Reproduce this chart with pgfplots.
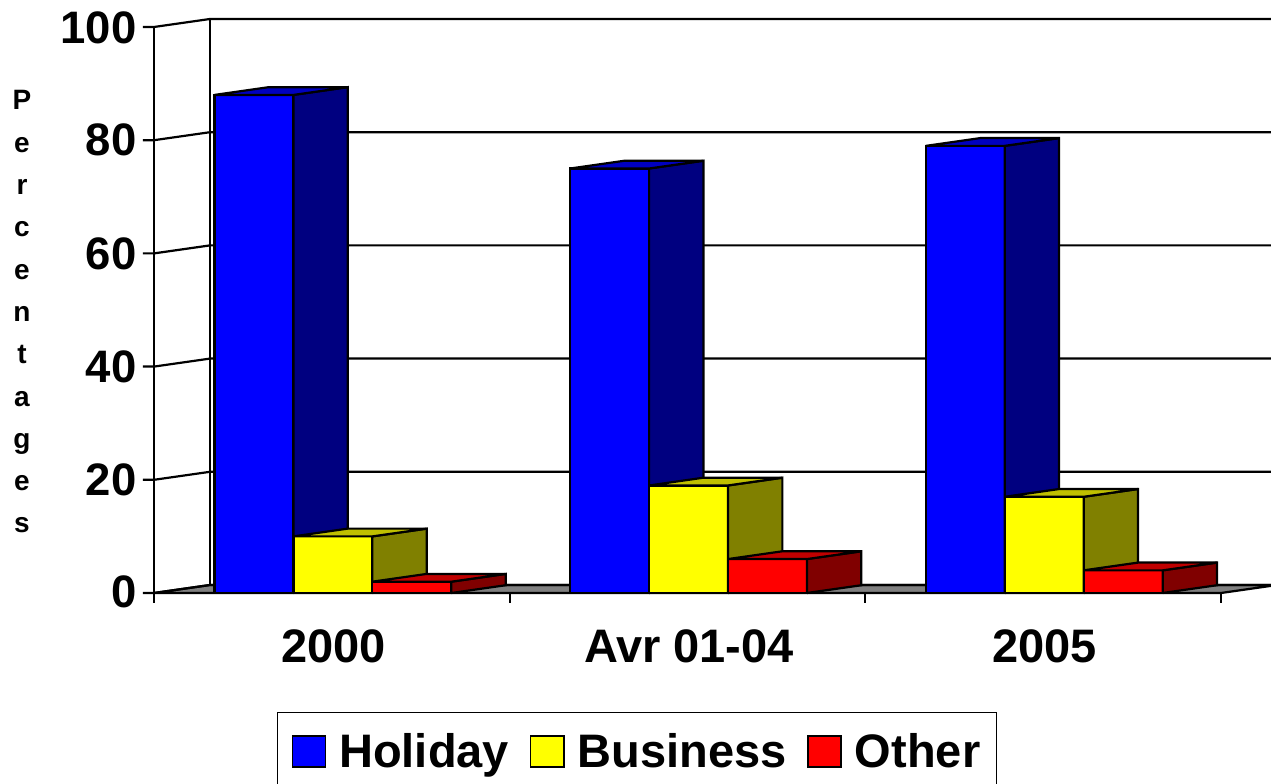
\documentclass[border=0pt]{standalone}
\usepackage{pgfplots}
\pgfplotsset{compat=1.18}
\usepackage{fontspec}
\setmainfont{Liberation Sans}
\definecolor{hF}{HTML}{0000FF}\definecolor{hS}{HTML}{000080}\definecolor{hT}{HTML}{0000C0}
\definecolor{bF}{HTML}{FFFF00}\definecolor{bS}{HTML}{808000}\definecolor{bT}{HTML}{C0C000}
\definecolor{oF}{HTML}{FF0000}\definecolor{oS}{HTML}{800000}\definecolor{oT}{HTML}{C00000}
\definecolor{floorc}{HTML}{808080}
% #1 left, #2 right, #3 value, #4 colour prefix
\newcommand{\tdbar}[4]{%
 \addplot3[forget plot,fill=#4F,draw=black] coordinates {(#1,0,0)(#2,0,0)(#2,0,#3)(#1,0,#3)(#1,0,0)};
 \addplot3[forget plot,fill=#4S,draw=black] coordinates {(#2,0,0)(#2,0.97,0)(#2,0.97,#3)(#2,0,#3)(#2,0,0)};
 \addplot3[forget plot,fill=#4T,draw=black] coordinates {(#1,0,#3)(#2,0,#3)(#2,0.97,#3)(#1,0.97,#3)(#1,0,#3)};
}
\begin{document}
\begin{tikzpicture}[x=1pt,y=1pt]
\path[use as bounding box,clip] (0,0) rectangle (1271,784);
\begin{axis}[
  at={(154pt,191pt)},anchor=origin,
  x={(355.67pt,0pt)},y={(56pt,8pt)},z={(0pt,5.66pt)},
  xmin=0,xmax=3,ymin=0,ymax=1,zmin=0,zmax=100,
  clip=false,
  axis line style={draw=none},
  major tick length=0pt,
  xtick={0.5,1.5,2.5},xticklabels={2000,Avr 01-04,2005},
  ytick=\empty,
  ztick={0,20,40,60,80,100},
  /pgf/number format/assume math mode=true,
  xticklabel style={font=\fontsize{47}{50}\selectfont\bfseries,xshift=19pt,yshift=-33pt},
  zticklabel style={font=\fontsize{45.5}{50}\selectfont\bfseries,xshift=-14pt,yshift=2pt},
  every axis plot/.append style={line width=2.2pt,line join=miter,no marks},
  legend columns=3,
  legend cell align=left,
  legend style={at={(axis cs:0.3458,0,-21.02)},anchor=north west,draw=black,line width=1.5pt,fill=white,
    font=\fontsize{47}{50}\selectfont\bfseries,inner xsep=14pt,inner ysep=19pt,
    /tikz/every even column/.append style={column sep=19pt},
    /tikz/every odd column/.append style={column sep=11pt}},
  legend image code/.code={\draw[line width=1.5pt,#1] (0pt,-15.5pt) rectangle (33pt,15.5pt);},
]
\addlegendimage{draw=black,fill=hF}\addlegendentry{Holiday}
\addlegendimage{draw=black,fill=bF}\addlegendentry{Business}
\addlegendimage{draw=black,fill=oF}\addlegendentry{Other}
% floor
\addplot3[forget plot,fill=floorc,draw=black] coordinates {(0,0,0)(3,0,0)(3,1,0)(0,1,0)(0,0,0)};
% walls: tick, side wall, back wall
\pgfplotsinvokeforeach{0,20,40,60,80,100}{
 \addplot3[forget plot,draw=black] coordinates {(-0.031,0,#1)(0,0,#1)(0,1,#1)(3,1,#1)};
}
\addplot3[forget plot,draw=black] coordinates {(0,0,0)(0,0,100)};
\addplot3[forget plot,draw=black] coordinates {(0,1,0)(0,1,100)};
\pgfplotsinvokeforeach{0,1,2,3}{
 \addplot3[forget plot,draw=black] coordinates {(#1,0,0)(#1,0,-1.8)};
}
% group 2000
\tdbar{0.170}{0.392}{88}{h}
\tdbar{0.392}{0.614}{10}{b}
\tdbar{0.614}{0.836}{2}{o}
% group Avr 01-04
\tdbar{1.170}{1.392}{75}{h}
\tdbar{1.392}{1.614}{19}{b}
\tdbar{1.614}{1.836}{6}{o}
% group 2005
\tdbar{2.170}{2.392}{79}{h}
\tdbar{2.392}{2.614}{17}{b}
\tdbar{2.614}{2.836}{4}{o}
\end{axis}
\node[align=center,font=\fontsize{28}{42.3}\selectfont\bfseries] at (22,472)
 {P\\e\\r\\c\\e\\n\\t\\a\\g\\e\\s};
\end{tikzpicture}
\end{document}
